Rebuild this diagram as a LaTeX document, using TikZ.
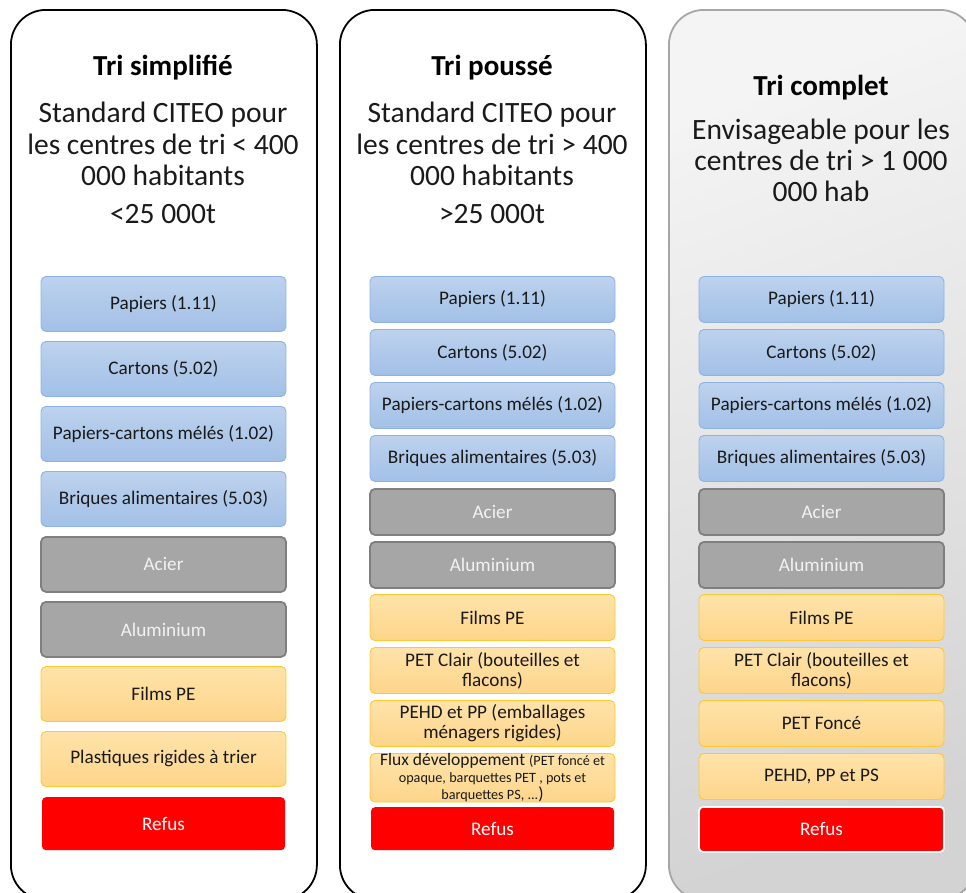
\documentclass[tikz,border=0pt]{standalone}
\usepackage{fontspec}
\setmainfont{Carlito}
\usetikzlibrary{shadings}
\definecolor{bluetop}{HTML}{BDD2ED}
\definecolor{bluebot}{HTML}{A2C0E7}
\definecolor{blueline}{HTML}{8DB3E2}
\definecolor{greyfill}{HTML}{A6A6A6}
\definecolor{greyline}{HTML}{7F7F7F}
\definecolor{greytext}{HTML}{F2F2F2}
\definecolor{ortop}{HTML}{FFE3AA}
\definecolor{orbot}{HTML}{FDD58A}
\definecolor{orline}{HTML}{FFC830}
\definecolor{textc}{HTML}{1A1A1A}
\definecolor{panelA}{HTML}{F4F4F4}
\definecolor{panelB}{HTML}{D3D3D3}
\definecolor{panelline}{HTML}{A6A6A6}
\definecolor{refusred}{HTML}{FF0000}
\begin{document}
\begin{tikzpicture}[x=1pt,y=-1pt,
  panel/.style={draw=black, line width=1.8pt, rounded corners=35pt, minimum width=306pt, minimum height=890pt, inner sep=0pt, anchor=north west},
  panelgrey/.style={panel, draw=panelline, top color=panelA, bottom color=panelB, shading angle=20},
  headtitle/.style={anchor=base, inner sep=0pt, font=\fontsize{29}{32}\bfseries\selectfont, text=black},
  headline/.style={anchor=base, inner sep=0pt, font=\fontsize{29.5}{32}\selectfont, text=textc},
  cell/.style={minimum width=245pt, inner sep=0pt, rounded corners=5pt, align=center, anchor=north, font=\fontsize{19.2}{20}\selectfont, text=textc},
  tallc/.style={cell, minimum height=55pt},
  shortc/.style={cell, minimum height=46pt},
  bluec/.style={top color=bluetop, bottom color=bluebot, draw=blueline, line width=0.9pt},
  greyc/.style={fill=greyfill, draw=greyline, line width=1.8pt, text=greytext},
  orc/.style={top color=ortop, bottom color=orbot, draw=orline, line width=0.9pt},
  redc/.style={fill=refusred, text=white, rounded corners=4pt}
]
\useasboundingbox (0,0) rectangle (966,892);
\clip (0,0) rectangle (966,892);

% panels
\node[panel] (p1) at (10,9) {};
\node[panel] (p2) at (339,9) {};
\node[panelgrey] (p3) at (668,9) {};

% headers column 1
\node[headtitle] (h1t) at (163,75) {Tri simplifié};
\node[headline] (h1a) at (163,122) {Standard CITEO pour};
\node[headline] (h1b) at (163,154) {les centres de tri < 400};
\node[headline] (h1c) at (163,185) {000 habitants};
\node[headline] (h1d) at (163,223) {<25 000t};

% headers column 2
\node[headtitle] (h2t) at (492,75) {Tri poussé};
\node[headline] (h2a) at (492,122) {Standard CITEO pour};
\node[headline] (h2b) at (492,154) {les centres de tri > 400};
\node[headline] (h2c) at (492,185) {000 habitants};
\node[headline] (h2d) at (492,223) {>25 000t};

% headers column 3
\node[headtitle] (h3t) at (821,95) {Tri complet};
\node[headline] (h3a) at (821,139) {Envisageable pour les};
\node[headline] (h3b) at (821,170) {centres de tri > 1 000};
\node[headline] (h3c) at (821,201) {000 hab};

% column 1 cells
\node[tallc, bluec] (a1) at (163.5,276) {Papiers (1.11)};
\node[tallc, bluec] (a2) at (163.5,341) {Cartons (5.02)};
\node[tallc, bluec] (a3) at (163.5,406) {Papiers-cartons mélés (1.02)};
\node[tallc, bluec] (a4) at (163.5,471) {Briques alimentaires (5.03)};
\node[tallc, greyc] (a5) at (163.5,536) {Acier};
\node[tallc, greyc] (a6) at (163.5,601) {Aluminium};
\node[tallc, orc] (a7) at (163.5,666) {Films PE};
\node[tallc, orc] (a8) at (163.5,731) {Plastiques rigides à trier};
\node[cell, redc, minimum height=53pt, minimum width=243pt] (a9) at (163.5,797) {Refus};

% column 2 cells
\node[shortc, bluec] (b1) at (492.5,276) {Papiers (1.11)};
\node[shortc, bluec] (b2) at (492.5,329) {Cartons (5.02)};
\node[shortc, bluec] (b3) at (492.5,382) {Papiers-cartons mélés (1.02)};
\node[shortc, bluec] (b4) at (492.5,435) {Briques alimentaires (5.03)};
\node[shortc, greyc] (b5) at (492.5,488) {Acier};
\node[shortc, greyc] (b6) at (492.5,541) {Aluminium};
\node[shortc, orc] (b7) at (492.5,594) {Films PE};
\node[shortc, orc] (b8) at (492.5,647) {PET Clair (bouteilles et\\flacons)};
\node[shortc, orc] (b9) at (492.5,700) {PEHD et PP (emballages\\ménagers rigides)};
\node[shortc, orc, font=\fontsize{17.5}{17}\selectfont] (b10) at (492.5,753) {Flux développement {\fontsize{14.2}{17}\selectfont(PET foncé et}\\{\fontsize{14.2}{17}\selectfont opaque, barquettes PET , pots et}\\{\fontsize{14.2}{17}\selectfont barquettes PS, ...})};
\node[cell, redc, minimum height=43pt, minimum width=243pt] (b11) at (492.5,807) {Refus};

% column 3 cells
\node[shortc, bluec] (c1) at (821.5,276) {Papiers (1.11)};
\node[shortc, bluec] (c2) at (821.5,329) {Cartons (5.02)};
\node[shortc, bluec] (c3) at (821.5,382) {Papiers-cartons mélés (1.02)};
\node[shortc, bluec] (c4) at (821.5,435) {Briques alimentaires (5.03)};
\node[shortc, greyc] (c5) at (821.5,488) {Acier};
\node[shortc, greyc] (c6) at (821.5,541) {Aluminium};
\node[shortc, orc] (c7) at (821.5,594) {Films PE};
\node[shortc, orc] (c8) at (821.5,647) {PET Clair (bouteilles et\\flacons)};
\node[shortc, orc] (c9) at (821.5,700) {PET Foncé};
\node[shortc, orc] (c10) at (821.5,753) {PEHD, PP et PS};
\node[cell, redc, draw=white, line width=1.8pt, minimum height=45pt] (c11) at (821.5,806) {Refus};
\end{tikzpicture}
\end{document}
